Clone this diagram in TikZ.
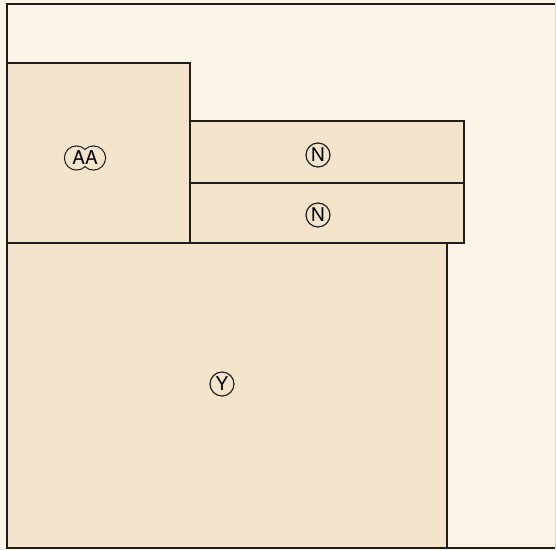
\documentclass[tikz,border=0pt]{standalone}
\usepackage{fontspec}
\setmainfont{TeX Gyre Heros}
\definecolor{paper}{HTML}{FBF4E7}
\definecolor{roomfill}{HTML}{F4E4CC}
\definecolor{ink}{HTML}{1E1E1E}
\definecolor{faint}{HTML}{D8D2C8}
\tikzset{
  room/.style={draw=ink, line width=1.3pt, fill=roomfill, anchor=north west, inner sep=0pt, outer sep=0pt},
  tagfont/.style={font=\fontsize{19}{19}\selectfont},
  tag/.style={circle, draw=ink, line width=1.2pt, inner sep=0pt, minimum size=24pt, tagfont},
}
\begin{document}
\begin{tikzpicture}[x=1pt,y=-1pt]
\fill[paper] (0,0) rectangle (556,550);
\useasboundingbox (0,0) rectangle (556,550);
\coordinate (tl) at (7,4);
\coordinate (tr) at (555,4);
\coordinate (bl) at (7,548);
\coordinate (br) at (555,548);
\draw[faint, line width=0.8pt] (tr) -- (br);
\draw[ink, line width=1.2pt] (tr) -- (tl) -- (bl) -- (br);
% rooms
\node[room, minimum width=440pt, minimum height=305pt] (Y) at (7,243) {};
\node[room, minimum width=183pt, minimum height=180pt] (AA) at (7,63) {};
\node[room, minimum width=274pt, minimum height=62pt] (N1) at (190,121) {};
\node[room, minimum width=274pt, minimum height=60pt] (N2) at (190,183) {};
% labels
\node[tag] (lN1) at (318,155) {N};
\node[tag] (lN2) at (318,215) {N};
\node[tag] (lY) at (222,384) {Y};
% AA double-circle tag
\coordinate (aa1) at (76.5,158);
\coordinate (aa2) at (93.5,158);
\draw[ink, line width=1.2pt] (aa1) circle (12pt) (aa2) circle (12pt);
\fill[roomfill] (aa1) circle (11.35pt) (aa2) circle (11.35pt);
\node[tagfont, inner sep=0pt] (lAA) at (85,158) {AA};
\end{tikzpicture}
\end{document}
